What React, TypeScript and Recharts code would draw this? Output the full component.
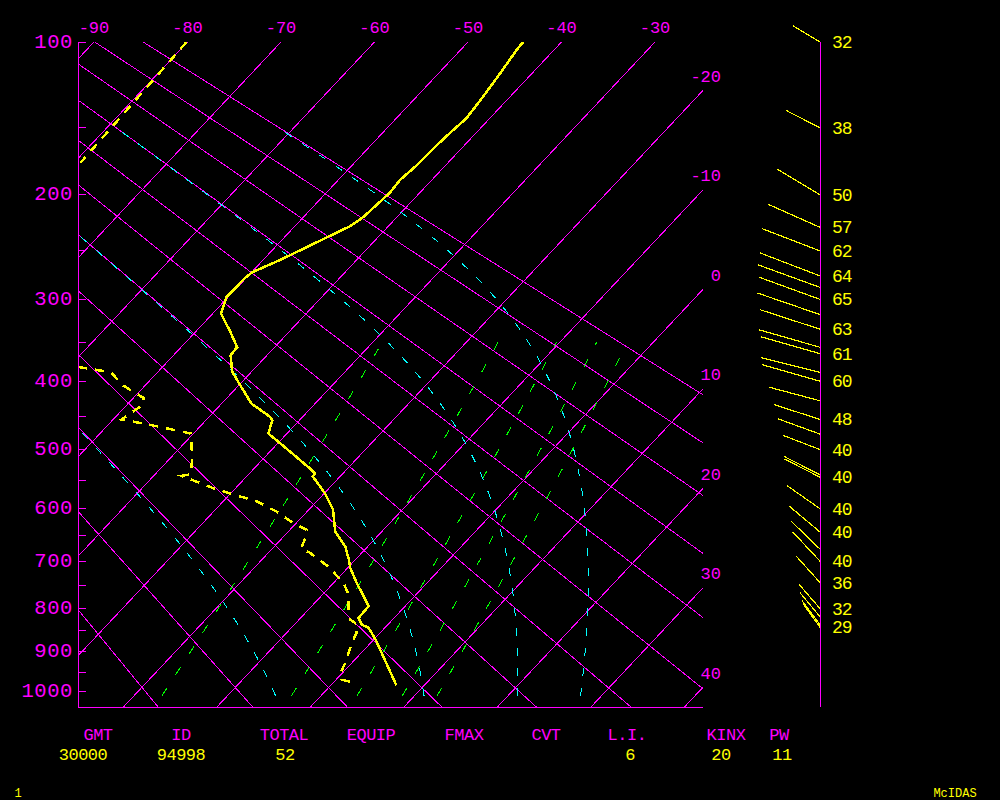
import React from "react";
import { ComposedChart, Line, XAxis, YAxis, ReferenceLine, Scatter } from "recharts";

const MAGENTA = "#ff00ff";
const YELLOW = "#ffff00";
const CYAN = "#00ffff";
const GREEN = "#00ff00";
const FONT = "'Liberation Mono', 'DejaVu Sans Mono', monospace";

// diagram geometry: p^kappa vertical scale, isotherms skewed 45 deg
const KAPPA = 0.286;
const P_TOP = 100;
const P_BOTTOM = 1040;
const X_MIN = -91.71; // skewed temperature at the left / right edge (read at 100 hPa)
const X_MAX = -24.87;
const SKEW = 18.78; // deg C of skew per unit of p^kappa
const STAFF_X = 820; // wind staff position (px units of the barb panel)

const pk = (p: number) => Math.pow(p, KAPPA);
const PK_TOP = pk(P_TOP);
const PK_BOTTOM = pk(P_BOTTOM);
const PX_PER_PK = 665 / (PK_BOTTOM - PK_TOP);
const skewX = (t: number, p: number) => t - SKEW * (pk(p) - PK_TOP);

// ---- sounding 94998, 00 UTC ----
const tempPressure = [100, 104, 117, 130, 144, 154, 164, 177, 188, 198, 219, 227, 259, 271, 276, 297, 316, 337, 356, 366, 387, 405, 431, 450, 455, 475, 498, 533, 539, 544, 573, 602, 642, 671, 697, 714, 745, 795, 821, 836, 844, 871, 983];
const tempValues = [-44.1, -44.0, -43.4, -42.9, -42.5, -42.8, -43.0, -43.1, -43.4, -43.2, -43.6, -44.1, -48.2, -49.9, -50.1, -50.2, -49.1, -46.3, -44.0, -43.9, -42.1, -39.9, -36.8, -33.5, -32.9, -32.0, -28.6, -23.7, -23.0, -22.9, -19.9, -17.4, -15.0, -12.4, -10.7, -9.7, -7.5, -3.9, -3.8, -2.8, -1.7, 0.2, 7.0];

// dewpoint, null where it runs off the dry side of the diagram
const dewPressure = [100, 175, 280, 381, 388, 406, 423, 433, 443, 454, 462, 475, 513, 540, 543, 566, 587, 605, 628, 639, 653, 675, 683, 711, 745, 770, 810, 825, 836, 856, 879, 927, 952, 969, 974];
const dewValues: (number | null)[] = [-80.1, -79.3, null, -59.0, -55.0, -52.3, -48.9, -48.3, -48.7, -49.1, -45.5, -40.3, -37.7, -36.2, -37.0, -31.9, -26.4, -23.3, -20.1, -18.2, -17.6, -16.9, -15.6, -12.2, -8.9, -7.2, -5.4, -4.5, -3.3, -2.5, -2.0, -0.7, -0.2, 0.6, 1.7];

// winds (direction deg, speed kt)
const windPressure = [100, 150, 200, 228, 250, 275, 287, 300, 317, 334, 356, 364, 388, 400, 427, 454, 476, 500, 541, 545, 600, 643, 676, 700, 744, 800, 818, 836, 842];
const windDirection = [301, 297, 301, 294, 291, 291, 290, 290, 289, 288, 286, 286, 284, 286, 285, 288, 290, 291, 297, 297, 305, 310, 314, 317, 318, 319, 320, 323, 324];
const windSpeed = [32, 38, 50, 57, 62, 64, 66, 65, 66, 63, 64, 61, 61, 60, 53, 48, 45, 40, 40, 40, 40, 40, 40, 40, 36, 32, 31, 30, 29];
const windLabelled = [1, 1, 1, 1, 1, 1, 0, 1, 0, 1, 0, 1, 0, 1, 0, 1, 0, 1, 0, 1, 1, 1, 0, 1, 1, 1, 0, 0, 1];

// ---- background lines ----
const pressureTicks = [100, 150, 200, 250, 300, 350, 400, 450, 500, 550, 600, 650, 700, 750, 800, 850, 900, 950, 1000];
const topTicks = [-90, -80, -70, -60, -50, -40, -30];
const rightLabels = [-20, -10, 0, 10, 20, 30, 40];
const isotherms = [-90, -80, -70, -60, -50, -40, -30, -20, -10, 0, 10, 20, 30, 40];
const dryAdiabats = [254, 264, 274, 284, 294, 304, 314, 324, 334, 344, 354, 364]; // theta, K
const moistAdiabats = [274, 304, 334, 364]; // theta-e, K
const mixingRatios = [1, 3, 5, 7, 9]; // g/kg
const GUIDE_BOTTOM = 1010;
const MOIST_TOP = 150;
const MIX_TOP = 350;

const es = (t: number) => 6.112 * Math.exp((17.67 * t) / (t + 243.5));
const thetaE = (t: number, p: number) => {
  const e = es(t);
  const w = (0.622 * e) / (p - e);
  const tk = t + 273.15;
  return tk * Math.pow(1000 / p, KAPPA) * Math.exp((2.45e6 * w) / (1004 * tk));
};
const moistTemp = (the: number, p: number) => {
  let lo = -120;
  let hi = 40;
  for (let i = 0; i < 40; i++) {
    const mid = (lo + hi) / 2;
    if (thetaE(mid, p) > the) hi = mid;
    else lo = mid;
  }
  return (lo + hi) / 2;
};
const mixTemp = (w: number, p: number) => {
  const l = Math.log((w * p) / (622 + w) / 6.112);
  return (243.5 * l) / (17.67 - l);
};

const levels = (from: number, to: number, step: number) => {
  const out: number[] = [];
  for (let p = from; p >= to; p -= step) out.push(p);
  return out;
};

const pt = (t: number | null, p: number) => ({ x: t === null ? X_MIN : skewX(t, p), y: t === null ? null : pk(p) });

const isothermLines = isotherms.map((t) => [pt(t, P_TOP), pt(t, P_BOTTOM)]);
const dryLines = dryAdiabats.map((th) =>
  [P_TOP, P_BOTTOM].map((p) => pt(th * Math.pow(p / 1000, KAPPA) - 273.15, p))
);
const moistLines = moistAdiabats.map((the) => levels(GUIDE_BOTTOM, MOIST_TOP, 10).map((p) => pt(moistTemp(the, p), p)));
const mixLines = mixingRatios.map((w) => levels(GUIDE_BOTTOM, MIX_TOP, 10).map((p) => pt(mixTemp(w, p), p)));
const tempLine = tempPressure.map((p, i) => pt(tempValues[i], p));
const dewLine = dewPressure.map((p, i) => pt(dewValues[i], p));

const barbs = windPressure.map((p, i) => {
  const d = (windDirection[i] * Math.PI) / 180;
  const s = windSpeed[i];
  return [
    { x: STAFF_X, y: pk(p) },
    { x: STAFF_X + s * Math.sin(d), y: pk(p) - (s * Math.cos(d)) / PX_PER_PK },
  ];
});
const speedLabels = windPressure
  .map((p, i) => ({ x: STAFF_X, y: pk(p), label: windSpeed[i], show: windLabelled[i] }))
  .filter((d) => d.show);

function PressureTick(props: any) {
  const { x, y, payload } = props;
  const p = Math.round(Math.pow(payload.value, 1 / KAPPA));
  return (
    <g>
      <line x1={x} x2={x + 8} y1={y} y2={y} stroke={MAGENTA} />
      {p % 100 === 0 && (
        <text x={x - 5} y={y} dominantBaseline="central" textAnchor="end" fill={MAGENTA} fontFamily={FONT} fontSize={20.5} letterSpacing={0.6}>
          {p}
        </text>
      )}
    </g>
  );
}

function TopTick(props: any) {
  const { x, y, payload } = props;
  return (
    <text x={x} y={y - 14} dominantBaseline="central" textAnchor="middle" fill={MAGENTA} fontFamily={FONT} fontSize={17}>
      {payload.value}
    </text>
  );
}

function RightTick(props: any) {
  const { x, y, payload } = props;
  const t = Math.round(X_MAX + SKEW * (payload.value - PK_TOP));
  return (
    <text x={x + 18} y={y - 13} dominantBaseline="central" textAnchor="end" fill={MAGENTA} fontFamily={FONT} fontSize={17}>
      {t}
    </text>
  );
}

const header = [
  ["GMT", 98], ["ID", 181], ["TOTAL", 284], ["EQUIP", 371], ["FMAX", 464],
  ["CVT", 546], ["L.I.", 627], ["KINX", 726], ["PW", 779],
] as const;
const values = [["30000", 83], ["94998", 181], ["52", 285], ["6", 630], ["20", 721], ["11", 782]] as const;

export default function App() {
  return (
    <div style={{ position: "fixed", left: 0, top: 0, width: 1000, height: 800, background: "#000", overflow: "hidden", shapeRendering: "crispEdges" }}>
      <div style={{ position: "absolute", left: 0, top: 0 }}>
        <ComposedChart width={1000} height={800} margin={{ top: 12, right: 257, bottom: 93, left: 18 }}>
          <XAxis
            type="number"
            dataKey="x"
            orientation="top"
            domain={[X_MIN, X_MAX]}
            allowDataOverflow
            ticks={topTicks}
            interval={0}
            height={30}
            tickSize={0}
            tickMargin={0}
            axisLine={false}
            tickLine={false}
            tick={(p: any) => <TopTick {...p} />}
          />
          <YAxis
            yAxisId="p"
            type="number"
            domain={[PK_TOP, PK_BOTTOM]}
            reversed
            allowDataOverflow
            ticks={pressureTicks.map(pk)}
            interval={0}
            width={60}
            tickSize={0}
            tickMargin={0}
            axisLine={{ stroke: MAGENTA }}
            tickLine={false}
            tick={(p: any) => <PressureTick {...p} />}
          />
          <YAxis
            yAxisId="r"
            orientation="right"
            type="number"
            domain={[PK_TOP, PK_BOTTOM]}
            reversed
            allowDataOverflow
            ticks={rightLabels.map((t) => PK_TOP + (t - X_MAX) / SKEW)}
            interval={0}
            width={40}
            tickSize={0}
            tickMargin={0}
            axisLine={false}
            tickLine={false}
            tick={(p: any) => <RightTick {...p} />}
          />
          <ReferenceLine yAxisId="p" y={PK_BOTTOM} stroke={MAGENTA} />
          {isothermLines.map((d, i) => (
            <Line key={`iso${i}`} yAxisId="p" data={d} dataKey="y" stroke={MAGENTA} strokeWidth={1} dot={false} isAnimationActive={false} />
          ))}
          {dryLines.map((d, i) => (
            <Line key={`dry${i}`} yAxisId="p" data={d} dataKey="y" stroke={MAGENTA} strokeWidth={1} dot={false} isAnimationActive={false} />
          ))}
          {mixLines.map((d, i) => (
            <Line key={`mix${i}`} yAxisId="p" data={d} dataKey="y" stroke={GREEN} strokeWidth={1} strokeDasharray="9 16" dot={false} isAnimationActive={false} />
          ))}
          {moistLines.map((d, i) => (
            <Line key={`moist${i}`} yAxisId="p" data={d} dataKey="y" stroke={CYAN} strokeWidth={1} strokeDasharray="8 12" dot={false} isAnimationActive={false} />
          ))}
          <Line yAxisId="p" data={dewLine} dataKey="y" stroke={YELLOW} strokeWidth={2.5} strokeDasharray="9 8" dot={false} isAnimationActive={false} />
          <Line yAxisId="p" data={tempLine} dataKey="y" stroke={YELLOW} strokeWidth={2.5} dot={false} isAnimationActive={false} />
        </ComposedChart>
      </div>

      <div style={{ position: "absolute", left: 0, top: 0 }}>
        <ComposedChart width={1000} height={800} margin={{ top: 0, right: 97, bottom: 93, left: 703 }}>
          <XAxis type="number" dataKey="x" domain={[703, 903]} allowDataOverflow hide />
          <YAxis type="number" dataKey="y" domain={[PK_TOP - 42 / PX_PER_PK, PK_BOTTOM]} reversed allowDataOverflow hide />
          <ReferenceLine
            segment={[
              { x: STAFF_X, y: PK_TOP },
              { x: STAFF_X, y: PK_BOTTOM },
            ]}
            stroke={MAGENTA}
          />
          {barbs.map((d, i) => (
            <Line key={`barb${i}`} data={d} dataKey="y" stroke={YELLOW} strokeWidth={1.2} dot={false} isAnimationActive={false} />
          ))}
          <Scatter
            data={speedLabels}
            isAnimationActive={false}
            shape={(s: any) => (
              <text x={s.cx + 12} y={s.cy + 1} dominantBaseline="central" fill={YELLOW} fontFamily={FONT} fontSize={18} letterSpacing={-1}>
                {s.payload.label}
              </text>
            )}
          />
        </ComposedChart>
      </div>

      <svg width={1000} height={800} style={{ position: "absolute", left: 0, top: 0, pointerEvents: "none" }}>
        {header.map(([t, x]) => (
          <text key={t} x={x} y={735} textAnchor="middle" dominantBaseline="central" fill={MAGENTA} fontFamily={FONT} fontSize={17} letterSpacing={-0.5}>
            {t}
          </text>
        ))}
        {values.map(([t, x]) => (
          <text key={t} x={x} y={755} textAnchor="middle" dominantBaseline="central" fill={YELLOW} fontFamily={FONT} fontSize={17} letterSpacing={-0.5}>
            {t}
          </text>
        ))}
        <text x={18} y={794} textAnchor="middle" dominantBaseline="central" fill={YELLOW} fontFamily={FONT} fontSize={12}>1</text>
        <text x={955} y={794} textAnchor="middle" dominantBaseline="central" fill={YELLOW} fontFamily={FONT} fontSize={12}>McIDAS</text>
      </svg>
    </div>
  );
}
